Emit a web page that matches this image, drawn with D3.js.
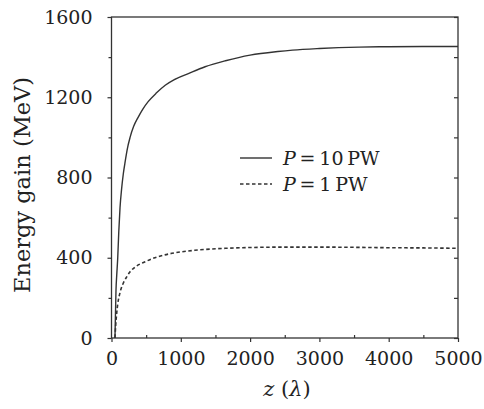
<!DOCTYPE html>
<html><head><meta charset="utf-8">
<script src="https://cdn.jsdelivr.net/npm/d3@7"></script>
<style>body{margin:0;background:#fff}</style>
</head><body>
<svg id="c" width="484" height="409"></svg>
<script>
const zSolid = [50,58,65,75,90,105,123,145,171,200,225,268,320,384,450,529,650,775,900,1109,1350,1645,2000,2400,2612,3000,3572,4000,4500,5000];
const eSolid = [0,130,240,310,400,530,650,740,820,885,937,1000,1055,1100,1140,1178,1222,1260,1287,1318,1352,1382,1410,1428,1435,1443,1450,1452,1453,1453];
const zDash = [50,60,75,90,109,135,171,220,268,350,485,650,872,1200,1645,2000,2500,3000,3500,4000,4500,5000];
const eDash = [0,60,124,170,206,242,274,305,330,356,380,403,422,437,447,451,453,453,452,450,449,447];
const xTicks = [0,1000,2000,3000,4000,5000];
const yTicks = [0,400,800,1200,1600];
const legendLabels = ["10","1"];

const svg = d3.select("#c");
const L=111.5, R=458, T=17, B=338;
const x = d3.scaleLinear().domain([0,5000]).range([L,R]);
const y = d3.scaleLinear().domain([0,1600]).range([B,T]);
const col="#333";
const font="DejaVu Serif";

svg.append("rect").attr("x",L).attr("y",T).attr("width",R-L).attr("height",B-T)
  .attr("fill","none").attr("stroke",col).attr("stroke-width",1.3);

const gl = svg.append("g").attr("transform",`translate(${L},0)`)
  .call(d3.axisLeft(y).tickValues(yTicks).tickSize(4).tickPadding(15).tickFormat(d3.format("d")));
const glm = svg.append("g").attr("transform",`translate(${L},0)`)
  .call(d3.axisLeft(y).tickValues([200,600,1000,1400]).tickSize(3).tickFormat(""));
const gr = svg.append("g").attr("transform",`translate(${R},0)`)
  .call(d3.axisLeft(y).tickValues(d3.range(0,1601,200)).tickSize(4).tickFormat(""));
const gb = svg.append("g").attr("transform",`translate(0,${B})`)
  .call(d3.axisBottom(x).tickValues(xTicks).tickSize(4).tickPadding(10).tickFormat(d3.format("d")));
const gbm = svg.append("g").attr("transform",`translate(0,${B})`)
  .call(d3.axisBottom(x).tickValues([500,1500,2500,3500,4500]).tickSize(-3).tickFormat(""));
[gl,glm,gr,gb,gbm].forEach(g=>{
  g.select(".domain").remove();
  g.selectAll("line").attr("stroke",col).attr("stroke-width",1.2);
  g.selectAll("text").attr("fill","#222").style("font-family",font).style("font-size","19px");
});

const line = d3.line().x(d=>x(d[0])).y(d=>y(d[1])).curve(d3.curveMonotoneX);
svg.append("path").datum(zSolid.map((z,i)=>[z,eSolid[i]]))
  .attr("d",line).attr("fill","none").attr("stroke",col).attr("stroke-width",1.4);
svg.append("path").datum(zDash.map((z,i)=>[z,eDash[i]]))
  .attr("d",line).attr("fill","none").attr("stroke",col).attr("stroke-width",1.6)
  .attr("stroke-dasharray","3.5,2.5");

const lg = svg.append("g");
[[158,null],[184,"3.5,2.5"]].forEach((s,i)=>{
  lg.append("line").attr("x1",240).attr("x2",272).attr("y1",s[0]).attr("y2",s[0])
    .attr("stroke",col).attr("stroke-width",1.4).attr("stroke-dasharray",s[1]);
  const t = lg.append("text").attr("x",283).attr("y",s[0]+6.5)
    .style("font-family",font).style("font-size","19px").attr("fill","#222");
  t.append("tspan").style("font-style","italic").text("P");
  t.append("tspan").text("\u2009=\u2009"+legendLabels[i]+"\u2009PW");
});

svg.append("text").attr("transform","translate(30,185) rotate(-90)")
  .attr("text-anchor","middle").style("font-family",font).style("font-size","22.5px")
  .attr("fill","#222").text("Energy gain (MeV)");
const xt = svg.append("text").attr("x",287).attr("y",396).attr("text-anchor","middle")
  .style("font-family",font).style("font-size","21px").attr("fill","#222");
xt.append("tspan").style("font-style","italic").text("z");
xt.append("tspan").text(" (");
xt.append("tspan").style("font-style","italic").text("λ");
xt.append("tspan").text(")");
</script>
</body></html>
